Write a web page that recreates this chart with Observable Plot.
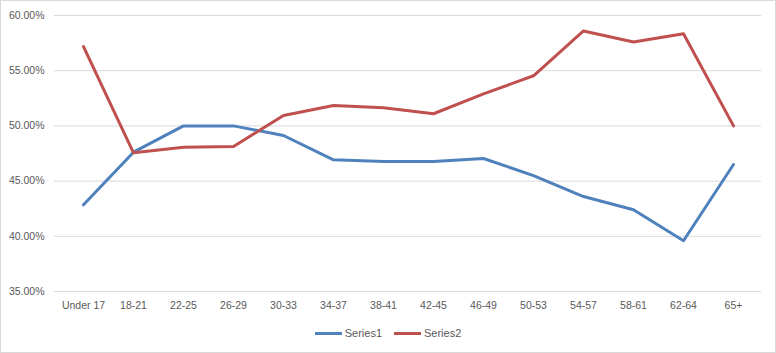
<!DOCTYPE html>
<html>
<head>
<meta charset="utf-8">
<script src="https://cdn.jsdelivr.net/npm/d3@7"></script>
<script src="https://cdn.jsdelivr.net/npm/@observablehq/plot@0.6"></script>
<style>
  html, body { margin: 0; padding: 0; background: #fff; }
  #wrap { position: relative; width: 776px; height: 353px; background: #fff; font-family: "Liberation Sans", Arial, sans-serif; }
  #frame { position: absolute; left: 0; top: 0; width: 776px; height: 353px; box-sizing: border-box; border: 1px solid #d9d9d9; pointer-events: none; }
  #legend { position: absolute; left: 0; top: 325px; width: 776px; height: 16px; display: flex; justify-content: center; align-items: center; font-size: 11px; color: #595959; }
  .item { display: flex; align-items: center; margin: 0 6px; }
  .sw { width: 27px; height: 3px; margin-right: 3px; }
</style>
</head>
<body>
<div id="wrap">
  <div id="chart"></div>
  <div id="legend"></div>
  <div id="frame"></div>
</div>
<script>
const categories = ["Under 17","18-21","22-25","26-29","30-33","34-37","38-41","42-45","46-49","50-53","54-57","58-61","62-64","65+"];
const series1 = [42.85, 47.62, 50.0, 50.0, 49.13, 46.93, 46.78, 46.78, 47.05, 45.5, 43.6, 42.4, 39.6, 46.5];
const series2 = [57.19, 47.56, 48.07, 48.13, 50.94, 51.85, 51.64, 51.1, 52.9, 54.54, 58.6, 57.6, 58.34, 50.0];
const seriesNames = ["Series1", "Series2"];
const seriesColors = ["#4F81BD", "#C0504D"];
const yTicks = [35, 40, 45, 50, 55, 60];

const data = [];
categories.forEach((c, i) => {
  data.push({cat: c, value: series1[i], series: seriesNames[0]});
  data.push({cat: c, value: series2[i], series: seriesNames[1]});
});

const chart = Plot.plot({
  width: 776,
  height: 320,
  marginTop: 15,
  marginBottom: 29,
  marginLeft: 54,
  marginRight: 15,
  style: {fontFamily: "'Liberation Sans', Arial, sans-serif", fontSize: "10.5px", color: "#595959", background: "transparent"},
  x: {type: "point", domain: categories, padding: 0.5, label: null},
  y: {domain: [35, 60], label: null},
  color: {domain: seriesNames, range: seriesColors},
  marks: [
    Plot.gridY(yTicks, {stroke: "#d9d9d9", strokeOpacity: 1, strokeWidth: 1}),
    Plot.axisY(yTicks, {tickSize: 0, tickPadding: 10, tickFormat: d => d.toFixed(2) + "%", fill: "#595959", label: null}),
    Plot.axisX({tickSize: 0, tickPadding: 10, fill: "#595959", label: null}),
    Plot.line(data, {x: "cat", y: "value", z: "series", stroke: "series", strokeWidth: 3, strokeLinejoin: "round", strokeLinecap: "round"})
  ]
});
document.getElementById("chart").appendChild(chart);

const legend = document.getElementById("legend");
seriesNames.forEach((n, i) => {
  const it = document.createElement("div");
  it.className = "item";
  const sw = document.createElement("div");
  sw.className = "sw";
  sw.style.background = seriesColors[i];
  const t = document.createElement("span");
  t.textContent = n;
  it.appendChild(sw);
  it.appendChild(t);
  legend.appendChild(it);
});
</script>
</body>
</html>
